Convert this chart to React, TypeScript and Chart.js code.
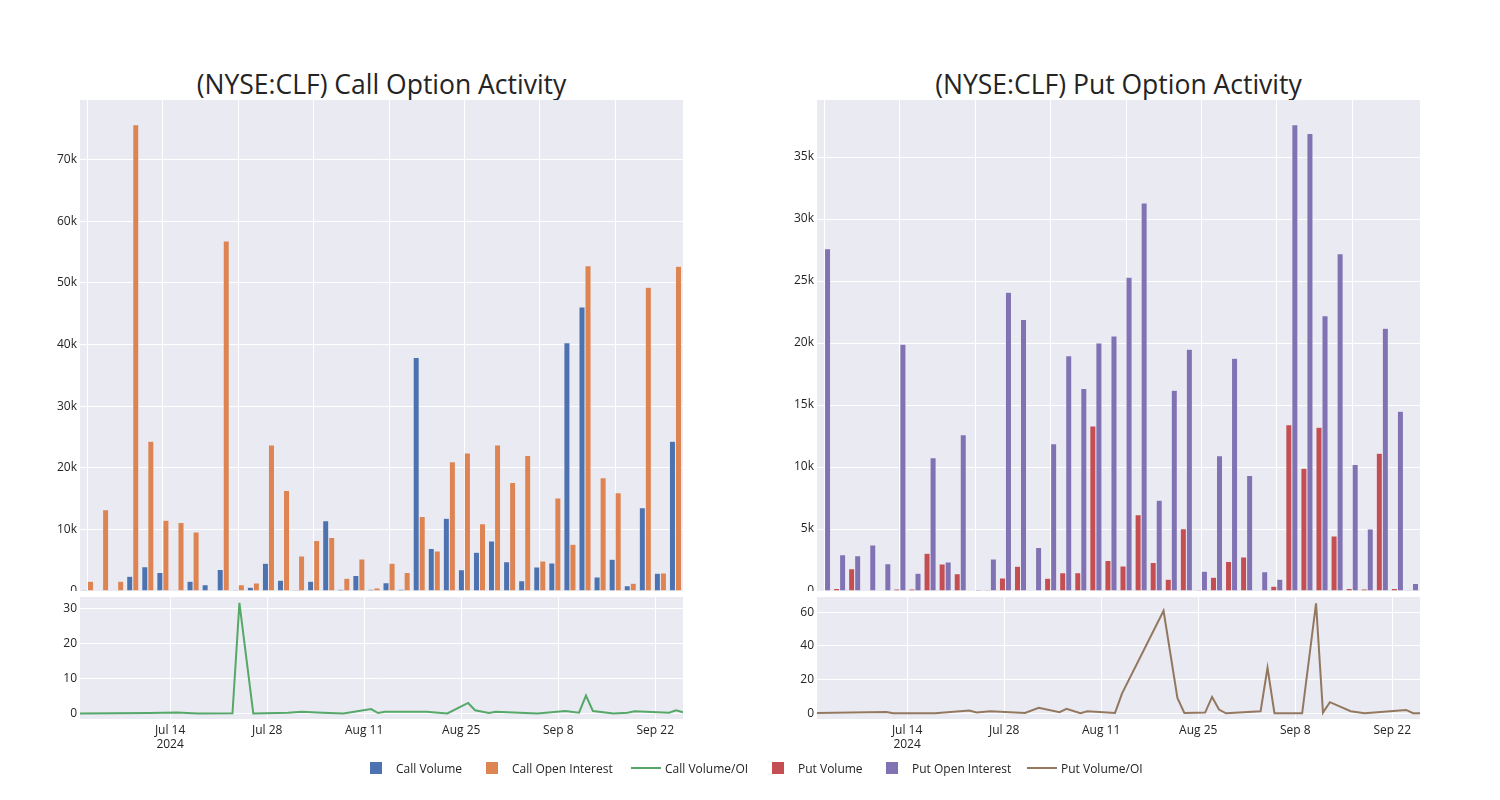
import React, { useEffect, useRef } from 'react';
import { Chart, registerables } from 'chart.js';

Chart.register(...registerables);

const FONT = '"Open Sans", verdana, arial, sans-serif';
const TEXT = 'rgb(36,36,36)';
const PLOT_BG = 'rgb(234,234,242)';
const C_BLUE = 'rgb(76,114,176)';
const C_ORANGE = 'rgb(221,132,82)';
const C_GREEN = 'rgb(85,168,104)';
const C_RED = 'rgb(196,78,82)';
const C_PURPLE = 'rgb(129,114,179)';
const C_BROWN = 'rgb(147,120,96)';

// ---- bar panels (40 sessions, shown as categories) ----
const callVolume = [200, 0, 0, 2400, 3950, 3000, 100, 1570, 1030, 3500, 200, 600, 4500, 1730, 160, 1600, 11400, 300, 2500, 270, 1350, 270, 37900, 6900, 11800, 3460, 6300, 8100, 4760, 1680, 3900, 4540, 40300, 46100, 2270, 5140, 870, 13500, 2870, 24300];
const callOpenInterest = [1570, 13200, 1600, 75700, 24300, 11500, 11100, 9570, 0, 56800, 1030, 1300, 23700, 16300, 5700, 8200, 8700, 2050, 5200, 500, 4500, 3000, 12100, 6500, 21000, 22400, 10900, 23700, 17600, 22000, 4870, 15100, 7570, 52800, 18400, 15950, 1240, 49300, 2920, 52700];
const putVolume = [0, 200, 1800, 0, 0, 160, 160, 3040, 2180, 1400, 30, 80, 1050, 2000, 0, 1020, 1480, 1480, 13300, 2450, 2020, 6140, 2290, 940, 5030, 100, 1100, 2370, 2750, 50, 380, 13400, 9900, 13200, 4440, 200, 160, 11100, 200, 20];
const putOpenInterest = [27600, 2930, 2850, 3700, 2200, 19900, 1430, 10740, 2340, 12600, 130, 2580, 24100, 21900, 3500, 11870, 18980, 16340, 20000, 20570, 25300, 31300, 7320, 16200, 19500, 1590, 10900, 18770, 9320, 1560, 940, 37600, 36900, 22200, 27200, 10200, 5000, 21200, 14500, 600];
const barCategories = callVolume.map((_, i) => 'S' + (i + 1));

const callBarTicks = [0, 10000, 20000, 30000, 40000, 50000, 60000, 70000];
const putBarTicks = [0, 5000, 10000, 15000, 20000, 25000, 30000, 35000];

// ---- ratio lines (dated) ----
const callRatioDates = ['2024-07-01', '2024-07-11', '2024-07-15', '2024-07-18', '2024-07-23', '2024-07-24', '2024-07-26', '2024-07-31', '2024-08-02', '2024-08-05', '2024-08-08', '2024-08-12', '2024-08-13', '2024-08-14', '2024-08-20', '2024-08-23', '2024-08-26', '2024-08-27', '2024-08-29', '2024-08-30', '2024-09-05', '2024-09-09', '2024-09-11', '2024-09-12', '2024-09-13', '2024-09-16', '2024-09-18', '2024-09-19', '2024-09-24', '2024-09-25', '2024-09-26'];
const callRatio = [0.0, 0.1, 0.25, 0.0, 0.05, 31.7, 0.0, 0.2, 0.45, 0.2, 0.0, 1.25, 0.1, 0.45, 0.45, 0.0, 3.0, 0.9, 0.1, 0.5, 0.0, 0.7, 0.2, 5.1, 0.7, 0.0, 0.2, 0.6, 0.2, 0.9, 0.3];

const putRatioDates = ['2024-07-01', '2024-07-11', '2024-07-12', '2024-07-18', '2024-07-23', '2024-07-24', '2024-07-26', '2024-07-31', '2024-08-02', '2024-08-05', '2024-08-06', '2024-08-08', '2024-08-09', '2024-08-13', '2024-08-14', '2024-08-20', '2024-08-22', '2024-08-23', '2024-08-26', '2024-08-27', '2024-08-28', '2024-08-29', '2024-09-03', '2024-09-04', '2024-09-05', '2024-09-09', '2024-09-11', '2024-09-12', '2024-09-13', '2024-09-16', '2024-09-18', '2024-09-24', '2024-09-25', '2024-09-26'];
const putRatio = [0.2, 0.8, 0.0, 0.0, 1.6, 0.5, 1.2, 0.2, 3.2, 0.6, 2.6, 0.0, 1.2, 0.2, 11.7, 60.8, 9.1, 0.2, 0.4, 9.7, 2.2, 0.0, 1.2, 27.0, 0.0, 0.0, 65.2, 0.4, 6.6, 1.2, 0.0, 2.0, 0.0, 0.0];

const dateTickDays = [0, 14, 28, 42, 56, 70];
const dateTickLabels: (string | string[])[] = [['Jul 14', '2024'], 'Jul 28', 'Aug 11', 'Aug 25', 'Sep 8', 'Sep 22'];
const callRatioTicks = [0, 10, 20, 30];
const putRatioTicks = [0, 20, 40, 60];

const dayOf = (iso: string) => {
  const [y, m, d] = iso.split('-').map(Number);
  return (Date.UTC(y, m - 1, d) - Date.UTC(2024, 6, 14)) / 86400000;
};

const bgPlugin = {
  id: 'plotBg',
  beforeDraw(chart: any) {
    const { ctx, chartArea } = chart;
    if (!chartArea) return;
    ctx.save();
    ctx.fillStyle = PLOT_BG;
    ctx.fillRect(chartArea.left, chartArea.top, chartArea.right - chartArea.left, chartArea.bottom - chartArea.top);
    ctx.restore();
  },
};

const tickFont = { family: FONT, size: 12 };

function barConfig(vol: number[], oi: number[], volLabel: string, oiLabel: string, volColor: string, oiColor: string, yMax: number, yTicks: number[]): any {
  return {
    type: 'bar',
    data: {
      labels: barCategories,
      datasets: [
        { label: volLabel, data: vol, backgroundColor: volColor, borderColor: PLOT_BG, borderWidth: 0.5, categoryPercentage: 0.8, barPercentage: 1 },
        { label: oiLabel, data: oi, backgroundColor: oiColor, borderColor: PLOT_BG, borderWidth: 0.5, categoryPercentage: 0.8, barPercentage: 1 },
      ],
    },
    options: {
      animation: false,
      responsive: false,
      maintainAspectRatio: false,
      layout: { padding: { top: 5, right: 7, left: 0, bottom: 0 } },
      plugins: { legend: { display: false }, tooltip: { enabled: false }, title: { display: false } },
      scales: {
        x: {
          type: 'category',
          offset: true,
          border: { display: false },
          grid: { offset: false, drawTicks: false, lineWidth: 1, color: (c: any) => (c.index % 5 === 0 ? '#ffffff' : 'rgba(0,0,0,0)') },
          ticks: { display: false, autoSkip: false },
          afterFit: (s: any) => { s.height = 0; s.paddingLeft = 0; s.paddingRight = 0; },
        },
        y: {
          min: 0,
          max: yMax,
          border: { display: false },
          grid: { color: '#ffffff', drawTicks: false, lineWidth: 1 },
          afterBuildTicks: (s: any) => { s.ticks = yTicks.map((v) => ({ value: v })); },
          ticks: {
            padding: 3,
            color: TEXT,
            font: tickFont,
            callback: (v: number) => (v === 0 ? '0' : v / 1000 + 'k'),
          },
          afterFit: (s: any) => { s.width = 60; s.paddingTop = 0; s.paddingBottom = 0; },
        },
      },
    },
    plugins: [bgPlugin],
  };
}

function lineConfig(dates: string[], values: number[], label: string, color: string, yMin: number, yMax: number, yTicks: number[]): any {
  return {
    type: 'line',
    data: {
      datasets: [
        {
          label,
          data: dates.map((d, i) => ({ x: dayOf(d), y: values[i] })),
          borderColor: color,
          backgroundColor: color,
          borderWidth: 2,
          pointRadius: 0,
          tension: 0,
          fill: false,
        },
      ],
    },
    options: {
      animation: false,
      responsive: false,
      maintainAspectRatio: false,
      layout: { padding: { top: 5, right: 7, left: 0, bottom: 0 } },
      plugins: { legend: { display: false }, tooltip: { enabled: false } },
      scales: {
        x: {
          type: 'linear',
          min: dayOf('2024-07-01'),
          max: dayOf('2024-09-26'),
          border: { display: false },
          grid: { color: '#ffffff', drawTicks: false, lineWidth: 1 },
          afterBuildTicks: (s: any) => { s.ticks = dateTickDays.map((v) => ({ value: v })); },
          ticks: {
            autoSkip: false,
            maxRotation: 0,
            padding: 4,
            color: TEXT,
            font: tickFont,
            callback: (v: number) => {
              const i = dateTickDays.indexOf(v);
              return i >= 0 ? dateTickLabels[i] : '';
            },
          },
          afterFit: (s: any) => { s.height = 43; s.paddingLeft = 0; s.paddingRight = 0; },
        },
        y: {
          min: yMin,
          max: yMax,
          border: { display: false },
          grid: { color: '#ffffff', drawTicks: false, lineWidth: 1 },
          afterBuildTicks: (s: any) => { s.ticks = yTicks.map((v) => ({ value: v })); },
          ticks: { padding: 3, color: TEXT, font: tickFont },
          afterFit: (s: any) => { s.width = 60; s.paddingTop = 0; s.paddingBottom = 0; },
        },
      },
    },
    plugins: [bgPlugin],
  };
}

const legendItems = [
  { label: 'Call Volume', color: C_BLUE, kind: 'box', x: 370 },
  { label: 'Call Open Interest', color: C_ORANGE, kind: 'box', x: 486 },
  { label: 'Call Volume/OI', color: C_GREEN, kind: 'line', x: 631 },
  { label: 'Put Volume', color: C_RED, kind: 'box', x: 772 },
  { label: 'Put Open Interest', color: C_PURPLE, kind: 'box', x: 886 },
  { label: 'Put Volume/OI', color: C_BROWN, kind: 'line', x: 1027 },
];

export default function App() {
  const callBarRef = useRef<HTMLCanvasElement>(null);
  const callLineRef = useRef<HTMLCanvasElement>(null);
  const putBarRef = useRef<HTMLCanvasElement>(null);
  const putLineRef = useRef<HTMLCanvasElement>(null);

  useEffect(() => {
    const charts = [
      new Chart(callBarRef.current!, barConfig(callVolume, callOpenInterest, 'Call Volume', 'Call Open Interest', C_BLUE, C_ORANGE, 79700, callBarTicks)),
      new Chart(callLineRef.current!, lineConfig(callRatioDates, callRatio, 'Call Volume/OI', C_GREEN, -1.6, 33.4, callRatioTicks)),
      new Chart(putBarRef.current!, barConfig(putVolume, putOpenInterest, 'Put Volume', 'Put Open Interest', C_RED, C_PURPLE, 39600, putBarTicks)),
      new Chart(putLineRef.current!, lineConfig(putRatioDates, putRatio, 'Put Volume/OI', C_BROWN, -3.4, 69, putRatioTicks)),
    ];
    return () => charts.forEach((c) => c.destroy());
  }, []);

  const canvasStyle = (left: number, top: number, h: number): React.CSSProperties => ({
    position: 'absolute', left, top, width: 670, height: h, display: 'block',
  });

  const titleStyle = (left: number): React.CSSProperties => ({
    position: 'absolute', left, top: 69, width: 603, textAlign: 'center', fontFamily: FONT, fontSize: 26.5, lineHeight: '30px', color: TEXT, whiteSpace: 'nowrap',
  });

  return (
    <div style={{ position: 'absolute', left: 0, top: 0, width: 1500, height: 800, background: '#ffffff', overflow: 'hidden' }}>
      <div style={titleStyle(80)}>(NYSE:CLF) Call Option Activity</div>
      <div style={titleStyle(817)}>(NYSE:CLF) Put Option Activity</div>
      <canvas ref={callBarRef} width={670} height={496} style={canvasStyle(20, 95, 496)} />
      <canvas ref={callLineRef} width={670} height={170} style={canvasStyle(20, 592, 170)} />
      <canvas ref={putBarRef} width={670} height={496} style={canvasStyle(757, 95, 496)} />
      <canvas ref={putLineRef} width={670} height={170} style={canvasStyle(757, 592, 170)} />
      {legendItems.map((it) => (
        <div key={it.label} style={{ position: 'absolute', left: it.x, top: 759, height: 18, display: 'flex', alignItems: 'center', fontFamily: FONT, fontSize: 12, color: TEXT, whiteSpace: 'nowrap' }}>
          {it.kind === 'box' ? (
            <span style={{ display: 'inline-block', width: 12, height: 12, background: it.color, marginRight: 14 }} />
          ) : (
            <span style={{ display: 'inline-block', width: 30, height: 2, background: it.color, marginRight: 4 }} />
          )}
          <span>{it.label}</span>
        </div>
      ))}
    </div>
  );
}
